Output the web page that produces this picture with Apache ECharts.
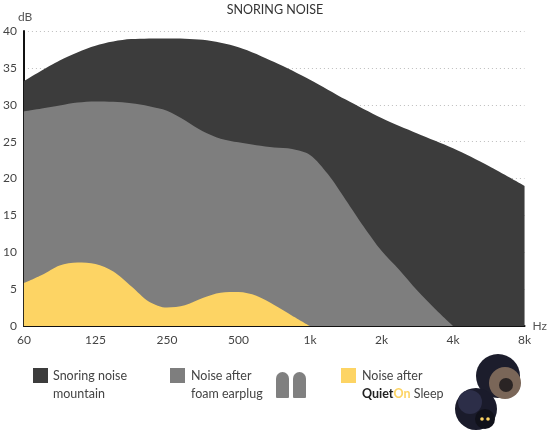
<!DOCTYPE html>
<html><head><meta charset="utf-8">
<script src="https://cdn.jsdelivr.net/npm/echarts@6/dist/echarts.min.js"></script>
<style>html,body{margin:0;padding:0;background:#fff}#c{width:550px;height:431px}</style>
</head><body><div id="c"></div>
<script>
// x positions are octave indices from 60 Hz (0) to 8k (7)
const xLabels = ['60','125','250','500','1k','2k','4k','8k'];
const yTicks = [0,5,10,15,20,25,30,35,40];
const snoring = [[0,33.2],[0.5,36.0],[1,38.0],[1.5,38.9],[2,39.0],[2.5,38.8],[3,37.8],[3.5,35.8],[4,33.4],[4.5,30.7],[5,28.2],[5.5,26.1],[6,24.1],[6.5,21.7],[7,19.0]];
const foam = [[0,29.1],[0.25,29.5],[0.5,29.9],[0.75,30.3],[1,30.45],[1.25,30.4],[1.5,30.2],[1.75,29.8],[2,29.2],[2.25,27.9],[2.5,26.4],[2.75,25.4],[3,24.9],[3.25,24.5],[3.5,24.2],[3.75,24.0],[4,23.2],[4.25,20.6],[4.5,17.1],[4.75,13.5],[5,10.2],[5.25,7.6],[5.5,4.8],[5.75,2.3],[6,0]];
const quieton = [[0,5.8],[0.25,6.9],[0.5,8.2],[0.75,8.6],[1,8.4],[1.25,7.4],[1.5,5.4],[1.75,3.3],[2,2.5],[2.25,2.8],[2.5,3.8],[2.75,4.5],[3,4.6],[3.25,4.1],[3.5,2.85],[3.75,1.4],[4,0]];
const seriesNames = ['Snoring noise mountain','Noise after foam earplug','Noise after QuietOn Sleep'];
const colors = ['#3c3c3c','#7e7e7e','#fdd464'];

const chart = echarts.init(document.getElementById('c'));
const font = 'Lato, "Open Sans", sans-serif';
function area(name, data, color){
  return {type:'line', name, data, smooth:0.3, showSymbol:false, symbol:'none',
    lineStyle:{width:0,color}, itemStyle:{color}, areaStyle:{color, opacity:1}, z:2};
}
const legendText = {fontFamily:font, fontSize:12.5, fill:'#444', lineHeight:18};
chart.setOption({
  animation:false,
  title:{text:'SNORING NOISE', left:'center', top:-2, textStyle:{fontFamily:font, fontSize:12.5, fontWeight:'normal', color:'#333'}},
  grid:{left:22, right:25, top:31, bottom:105},
  xAxis:{type:'value', min:0, max:7, interval:1,
    name:'Hz', nameLocation:'end', nameGap:8, nameTextStyle:{fontFamily:font, fontSize:12, color:'#555', verticalAlign:'middle'},
    axisLine:{show:true, lineStyle:{color:'#111', width:2}}, axisTick:{show:false}, splitLine:{show:false},
    axisLabel:{formatter:v=>xLabels[v], fontFamily:font, fontSize:12, color:'#444', margin:8}},
  yAxis:{type:'value', min:yTicks[0], max:yTicks[yTicks.length-1], interval:5,
    name:'dB', nameLocation:'end', nameGap:8, nameTextStyle:{fontFamily:font, fontSize:12, color:'#555', align:'left', padding:[0,0,0,-6]},
    axisLine:{show:true, lineStyle:{color:'#111', width:2}}, axisTick:{show:false},
    splitLine:{show:true, lineStyle:{color:'#bdbdbd', type:[1,3], width:1}},
    axisLabel:{fontFamily:font, fontSize:12, color:'#444', margin:7, showMinLabel:true}},
  series:[area(seriesNames[0], snoring, colors[0]), area(seriesNames[1], foam, colors[1]), area(seriesNames[2], quieton, colors[2])],
  graphic:[
    {type:'rect', shape:{x:33,y:368,width:15,height:15}, style:{fill:colors[0]}},
    {type:'text', x:53, y:367, style:Object.assign({text:'Snoring noise\nmountain'}, legendText)},
    {type:'rect', shape:{x:170,y:368,width:15,height:15}, style:{fill:colors[1]}},
    {type:'text', x:191, y:367, style:Object.assign({text:'Noise after\nfoam earplug'}, legendText)},
    {type:'rect', shape:{x:276,y:372,width:13,height:26,r:[6.5,6.5,1,1]}, style:{fill:'#808080'}},
    {type:'rect', shape:{x:293,y:372,width:13,height:26,r:[6.5,6.5,1,1]}, style:{fill:'#808080'}},
    {type:'rect', shape:{x:341,y:368,width:15,height:15}, style:{fill:colors[2]}},
    {type:'text', x:362, y:367, style:{text:'Noise after\n{b|Quiet}{y|On} Sleep', fontFamily:font, fontSize:12.5, fill:'#444', lineHeight:18,
      rich:{b:{fontFamily:font, fontSize:12.5, fontWeight:'bold', fill:'#222', lineHeight:18}, y:{fontFamily:font, fontSize:12.5, fontWeight:'bold', fill:'#fdd464', lineHeight:18}}}},
    // earbuds
    {type:'circle', shape:{cx:498,cy:376,r:22}, style:{fill:'#1c1d2c'}},
    {type:'circle', shape:{cx:505,cy:383,r:16}, style:{fill:'#7a6658'}},
    {type:'circle', shape:{cx:506,cy:385,r:7}, style:{fill:'#2a2424'}},
    {type:'circle', shape:{cx:476,cy:409,r:21}, style:{fill:'#1a1b2b'}},
    {type:'circle', shape:{cx:470,cy:402,r:12}, style:{fill:'#2c2e48'}},
    {type:'circle', shape:{cx:485,cy:419,r:10}, style:{fill:'#10111a'}},
    {type:'circle', shape:{cx:482,cy:419,r:1.8}, style:{fill:'#fdd464'}},
    {type:'circle', shape:{cx:488,cy:419,r:1.8}, style:{fill:'#fdd464'}}
  ]
});
</script></body></html>
